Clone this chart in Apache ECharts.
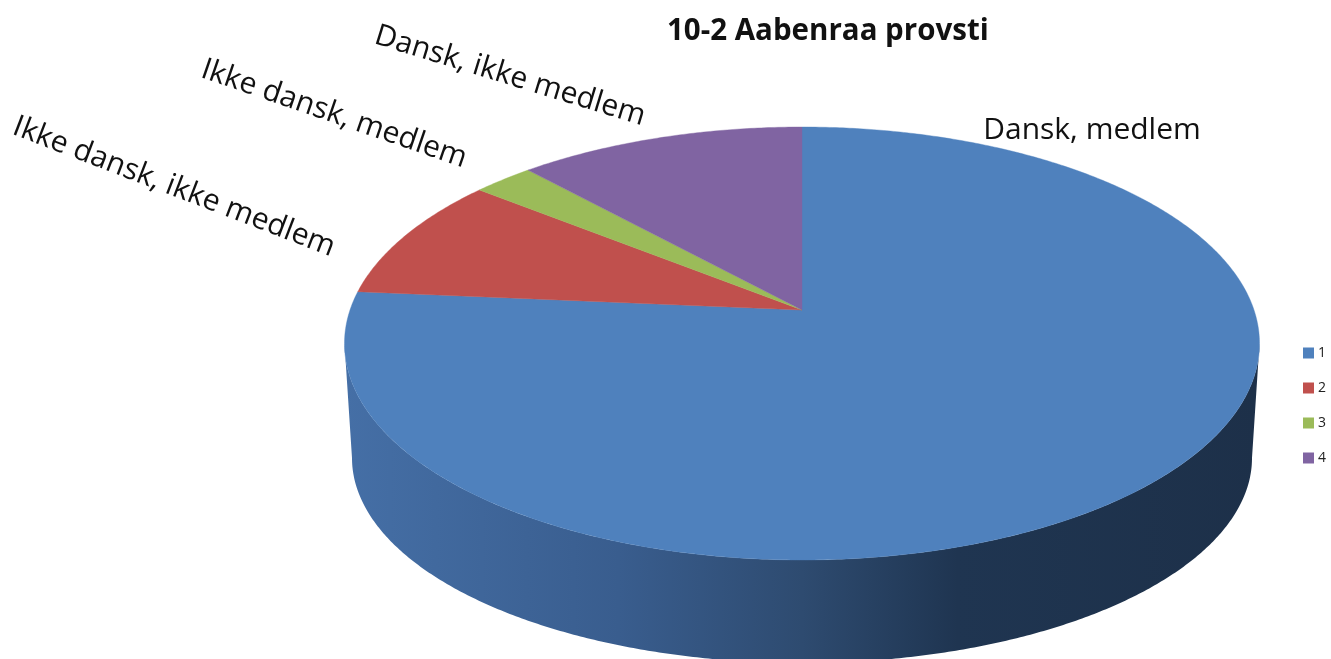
<!DOCTYPE html>
<html><head><meta charset="utf-8">
<style>html,body{margin:0;padding:0;background:#fff}#c{width:1331px;height:659px}</style>
<script src="https://cdn.jsdelivr.net/npm/echarts@6/dist/echarts.min.js"></script>
</head><body><div id="c"></div>
<script>
var titleText = '10-2 Aabenraa provsti';
var legendNames = ['1', '2', '3', '4'];
var sliceLabels = ['Dansk, medlem', 'Ikke dansk, ikke medlem', 'Ikke dansk, medlem', 'Dansk, ikke medlem'];
var sliceValues = [76.4, 9.3, 2.5, 11.8];
var sliceColors = ['#4f81bd', '#c0504d', '#9bbb59', '#8064a2'];

var labelLayout = [
  {x: 1092, y: 130, deg: 0},
  {x: 174, y: 187, deg: 21},
  {x: 334, y: 114, deg: 19},
  {x: 510, y: 76, deg: 17}
];
// perspective projection of the pie disc
var apex = {x: 802, y: 310}, K = 0.1547, A = 211.3, C = 452;
var base = {cx: 802, cy: 458, rx: 450, ry: 205};
var total = sliceValues.reduce(function (a, b) { return a + b; }, 0);

function project(turn) {
  var t = turn * 2 * Math.PI, X = Math.sin(t), Y = Math.cos(t), w = 1 + K * Y;
  return [apex.x + C * X / w, apex.y - A * Y / w];
}
function rimPoints(from, to) {
  var n = Math.max(2, Math.ceil((to - from) * 720)), pts = [];
  for (var i = 0; i <= n; i++) pts.push(project(from + (to - from) * i / n));
  return pts;
}
function extremeTurn(sign) { // turn where the projected disc is widest
  return sign > 0 ? 0.25 + Math.asin(K) / (2 * Math.PI) : 0.75 - Math.asin(K) / (2 * Math.PI);
}
function sliceSeries(idx) {
  var start = 0;
  for (var i = 0; i < idx; i++) start += sliceValues[i] / total;
  var end = start + sliceValues[idx] / total;
  return {
    type: 'custom', name: legendNames[idx], coordinateSystem: 'none', silent: true,
    z: 3, clip: false, data: [[sliceValues[idx]]],
    itemStyle: {color: sliceColors[idx]},
    renderItem: function () {
      var pts = [[apex.x, apex.y]].concat(rimPoints(start, end));
      var L = labelLayout[idx];
      return {type: 'group', children: [
        {type: 'polygon', shape: {points: pts}, style: {fill: sliceColors[idx], stroke: sliceColors[idx], lineWidth: 0.4}},
        {type: 'text', x: L.x, y: L.y, rotation: -L.deg * Math.PI / 180,
          style: {text: sliceLabels[idx], x: 0, y: 0, align: 'center', verticalAlign: 'middle',
            fill: '#111', font: '30px "Open Sans", sans-serif'}}
      ]};
    }
  };
}
var wallSeries = {
  type: 'custom', name: 'wall', coordinateSystem: 'none', silent: true, z: 1, clip: false,
  data: [[total]],
  renderItem: function () {
    var pts = rimPoints(extremeTurn(1), extremeTurn(-1));
    for (var d = 0; d <= 180; d += 0.5) {
      var r = d * Math.PI / 180;
      pts.push([base.cx - base.rx * Math.cos(r), base.cy + base.ry * Math.sin(r)]);
    }
    return {type: 'polygon', shape: {points: pts}, style: {
      fill: new echarts.graphic.LinearGradient(0, 0, 1, 0, [
        {offset: 0, color: '#456fa6'},
        {offset: 0.3, color: '#395d8e'},
        {offset: 0.5, color: '#2e4b70'},
        {offset: 0.67, color: '#1f3551'},
        {offset: 1, color: '#1d3049'}
      ])
    }};
  }
};
var chart = echarts.init(document.getElementById('c'), null, {renderer: 'canvas'});
chart.setOption({
  animation: false,
  backgroundColor: '#fff',
  title: {text: titleText, left: 667, top: 17, padding: 0,
    textStyle: {fontFamily: '"Open Sans", sans-serif', fontSize: 29.5, fontWeight: 'bold', color: '#111'}},
  legend: {data: legendNames, orient: 'vertical', left: 1303, top: 346, padding: 0,
    itemWidth: 11, itemHeight: 11, itemGap: 21, icon: 'rect',
    textStyle: {fontFamily: '"Open Sans", sans-serif', fontSize: 14, color: '#222', padding: [0,0,0,-1]}},
  series: [wallSeries].concat(sliceValues.map(function (v, i) { return sliceSeries(i); }))
});
</script></body></html>
